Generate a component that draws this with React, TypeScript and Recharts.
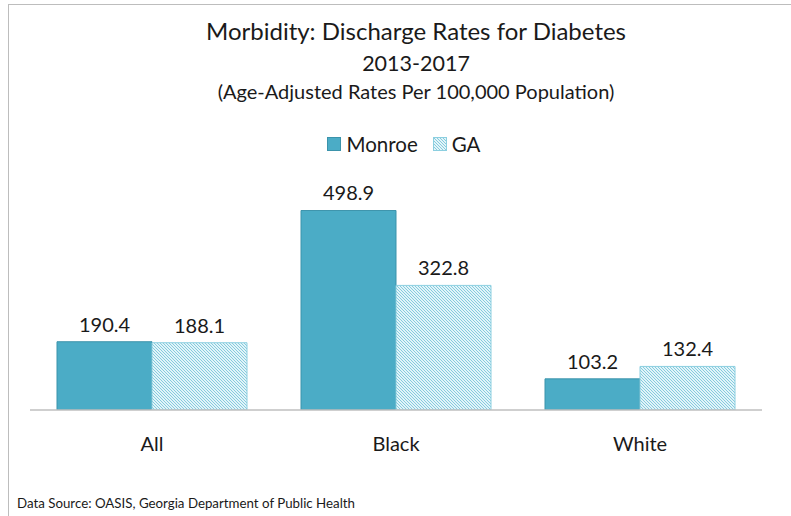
import { BarChart, Bar, XAxis, YAxis, LabelList, Legend } from 'recharts'

const categories = ['All', 'Black', 'White']
const monroeRates = [190.4, 498.9, 103.2]
const gaRates = [188.1, 322.8, 132.4]
const seriesNames = ['Monroe', 'GA']
const yDomain = [30, 500]

const data = categories.map((name, i) => ({ name, monroe: monroeRates[i], ga: gaRates[i] }))

const FONT = 'Lato, "Open Sans", sans-serif'
const MONROE_FILL = '#4bacc6'

function CategoryTick(props: any) {
  const { x, y, payload } = props
  return (
    <text x={x} y={y + 25} textAnchor="middle" dominantBaseline="central" fontSize={20} fill="#1a1a1a" fontFamily={FONT}>
      {payload.value}
    </text>
  )
}

function LegendContent() {
  return (
    <div style={{ display: 'flex', justifyContent: 'center', alignItems: 'center', gap: 15, fontFamily: FONT, fontSize: 20.5, color: '#1a1a1a' }}>
      <span style={{ display: 'flex', alignItems: 'center', gap: 5 }}>
        <svg width={14} height={14}>
          <rect x={0.5} y={0.5} width={13} height={13} fill={MONROE_FILL} stroke="#3b93ab" />
        </svg>
        {seriesNames[0]}
      </span>
      <span style={{ display: 'flex', alignItems: 'center', gap: 5 }}>
        <svg width={14} height={14}>
          <defs>
            <pattern id="gaLegend" patternUnits="userSpaceOnUse" width={3} height={3}>
              <rect width={3} height={3} fill="#e2f4f9" />
              <path d="M-1,-1 L4,4 M-1,2 L1,4 M2,-1 L4,1" stroke="#86cbdd" strokeWidth={1} />
            </pattern>
          </defs>
          <rect x={0.5} y={0.5} width={13} height={13} fill="url(#gaLegend)" stroke="#8ccfe0" />
        </svg>
        {seriesNames[1]}
      </span>
    </div>
  )
}

export default function App() {
  return (
    <div style={{ position: 'absolute', left: 0, top: 0, width: 791, height: 516, background: '#fff', overflow: 'hidden' }}>
      {/* frame edges */}
      <div style={{ position: 'absolute', left: 8, top: 4, right: 0, bottom: 0, borderTop: '1px solid #bdbdbd', borderLeft: '1px solid #bdbdbd' }} />

      <div style={{ position: 'absolute', left: 41, width: 750, top: 0, textAlign: 'center', fontFamily: FONT, color: '#1a1a1a' }}>
        <div style={{ position: 'absolute', top: 16, width: '100%', fontSize: 24, lineHeight: '30px' }}>
          Morbidity: Discharge Rates for Diabetes
        </div>
        <div style={{ position: 'absolute', top: 49, width: '100%', fontSize: 21.5, lineHeight: '28px' }}>2013-2017</div>
        <div style={{ position: 'absolute', top: 78, width: '100%', fontSize: 20, lineHeight: '26px' }}>
          (Age-Adjusted Rates Per 100,000 Population)
        </div>
      </div>

      <BarChart
        width={791}
        height={516}
        data={data}
        margin={{ top: 210, right: 29, bottom: 76, left: 30 }}
        barGap={0}
        barSize={95}
      >
        <defs>
          <pattern id="gaHatch" patternUnits="userSpaceOnUse" width={3} height={3}>
            <rect width={3} height={3} fill="#e2f4f9" />
            <path d="M-1,-1 L4,4 M-1,2 L1,4 M2,-1 L4,1" stroke="#86cbdd" strokeWidth={1} />
          </pattern>
        </defs>
        <XAxis
          dataKey="name"
          height={30}
          axisLine={{ stroke: '#bfbfbf', strokeWidth: 1.5 }}
          tickLine={false}
          tick={<CategoryTick />}
        />
        <YAxis hide domain={yDomain} allowDataOverflow />
        <Legend
          verticalAlign="middle"
          layout="horizontal"
          content={<LegendContent />}
          wrapperStyle={{ top: 132, left: 0, width: 808, height: 28 }}
        />
        <Bar dataKey="monroe" name={seriesNames[0]} fill={MONROE_FILL} stroke="#3b93ab" strokeWidth={1} isAnimationActive={false}>
          <LabelList dataKey="monroe" position="top" offset={10} fill="#1a1a1a" fontSize={20} fontFamily={FONT} formatter={(v: any) => Number(v).toFixed(1)} />
        </Bar>
        <Bar dataKey="ga" name={seriesNames[1]} fill="url(#gaHatch)" stroke="#8ccfe0" strokeWidth={1} isAnimationActive={false}>
          <LabelList dataKey="ga" position="top" offset={10} fill="#1a1a1a" fontSize={20} fontFamily={FONT} formatter={(v: any) => Number(v).toFixed(1)} />
        </Bar>
      </BarChart>

      <div style={{ position: 'absolute', left: 17, top: 494, fontFamily: FONT, fontSize: 13.3, color: '#1a1a1a', lineHeight: '18px' }}>
        Data Source: OASIS, Georgia Department of Public Health
      </div>
    </div>
  )
}
